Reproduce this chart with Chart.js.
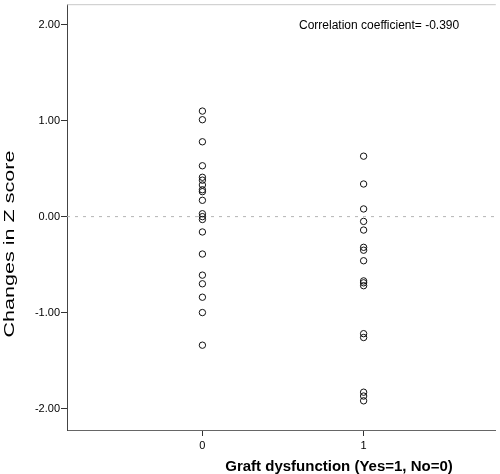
<!DOCTYPE html>
<html lang="en">
  <head>
    <meta charset="UTF-8" />
    <title>Changes in Z score vs graft dysfunction</title>
    <script src="https://cdn.jsdelivr.net/npm/chart.js"></script>
    <style>
      html, body { margin: 0; padding: 0; background: #fff; }
    </style>
  </head>
  <body>
    <canvas id="chart" width="500" height="474"></canvas>
    <script>
    // groups on the x axis (Yes=1, No=0)
    const groups = [0, 1];
    // changes in Z score
    const noDysfunction = [1.10, 1.01, 0.78, 0.53, 0.41, 0.38, 0.33, 0.28, 0.26, 0.17,
                           0.03, 0.00, -0.03, -0.16, -0.39, -0.61, -0.70, -0.84, -1.00, -1.34];
    const dysfunction = [0.63, 0.34, 0.08, -0.05, -0.14, -0.32, -0.35, -0.46, -0.67, -0.69,
                         -0.72, -1.22, -1.26, -1.83, -1.87, -1.92];
    const yTicks = [-2, -1, 0, 1, 2];
    const xTicks = [0, 1];
    const xTitle = 'Graft dysfunction (Yes=1, No=0)';
    const yTitle = 'Changes in Z score';
    const note = 'Correlation coefficient= -0.390';

    const FONT = '"Liberation Sans", Arial, sans-serif';
    const xMin = -0.84, xMax = 1.82;
    const yMin = -2.224, yMax = 2.214;

    // titles and the note, drawn once the chart area is known
    const labels = {
      id: 'labels',
      afterDraw(chart) {
        const ctx = chart.ctx;
        const a = chart.chartArea;
        ctx.save();
        // light frame line on top
        ctx.strokeStyle = '#c8c8c8';
        ctx.lineWidth = 1;
        ctx.beginPath();
        ctx.moveTo(a.left, a.top + 0.5);
        ctx.lineTo(a.right, a.top + 0.5);
        ctx.stroke();

        ctx.fillStyle = '#000';
        ctx.font = '12px ' + FONT;
        ctx.textAlign = 'left';
        ctx.textBaseline = 'alphabetic';
        ctx.fillText(note, a.left + 232, a.top + 25);

        ctx.font = 'bold 15px ' + FONT;
        ctx.textAlign = 'center';
        ctx.fillText(xTitle, a.left + 272, 471);

        // y title, stretched along its length like the original
        ctx.font = '15px ' + FONT;
        const w = ctx.measureText(yTitle).width;
        ctx.translate(14, 244);
        ctx.rotate(-Math.PI / 2);
        ctx.scale(187 / w, 1);
        ctx.textAlign = 'center';
        ctx.fillText(yTitle, 0, 0);
        ctx.restore();
      }
    };

    const pointStyle = {
      type: 'scatter',
      pointRadius: 3.2,
      pointHoverRadius: 3.2,
      pointBorderWidth: 1,
      borderColor: '#111',
      backgroundColor: 'rgba(0,0,0,0)',
      showLine: false
    };

    new Chart(document.getElementById('chart'), {
      data: {
        datasets: [
          Object.assign({ label: 'No', data: noDysfunction.map(v => ({ x: groups[0], y: v })) }, pointStyle),
          Object.assign({ label: 'Yes', data: dysfunction.map(v => ({ x: groups[1], y: v })) }, pointStyle),
          {
            type: 'line',
            label: 'zero',
            data: [{ x: xMin, y: 0 }, { x: xMax, y: 0 }],
            borderColor: '#b4b4b4',
            borderWidth: 1,
            borderDash: [3, 5],
            pointRadius: 0
          }
        ]
      },
      options: {
        responsive: false,
        animation: false,
        layout: { padding: { top: 0, right: 0, left: 0, bottom: 0 } },
        plugins: { legend: { display: false }, tooltip: { enabled: false } },
        scales: {
          x: {
            type: 'linear',
            min: xMin,
            max: xMax,
            afterBuildTicks: s => { s.ticks = xTicks.map(v => ({ value: v })); },
            afterFit: s => { s.height = 44; s.paddingLeft = 0; s.paddingRight = 0; },
            ticks: { color: '#000', font: { size: 11, family: FONT }, padding: 3, callback: v => String(v) },
            grid: { drawOnChartArea: false, drawTicks: true, tickLength: 6, tickColor: '#333' },
            border: { color: '#666', width: 1 }
          },
          y: {
            type: 'linear',
            min: yMin,
            max: yMax,
            afterBuildTicks: s => { s.ticks = yTicks.map(v => ({ value: v })); },
            afterFit: s => { s.width = 67; s.paddingTop = 0; s.paddingBottom = 0; },
            ticks: { color: '#000', font: { size: 11, family: FONT }, padding: 1, callback: v => Number(v).toFixed(2) },
            grid: { drawOnChartArea: false, drawTicks: true, tickLength: 6, tickColor: '#333' },
            border: { color: '#444', width: 1 }
          }
        }
      },
      plugins: [labels]
    });
    </script>
  </body>
</html>
